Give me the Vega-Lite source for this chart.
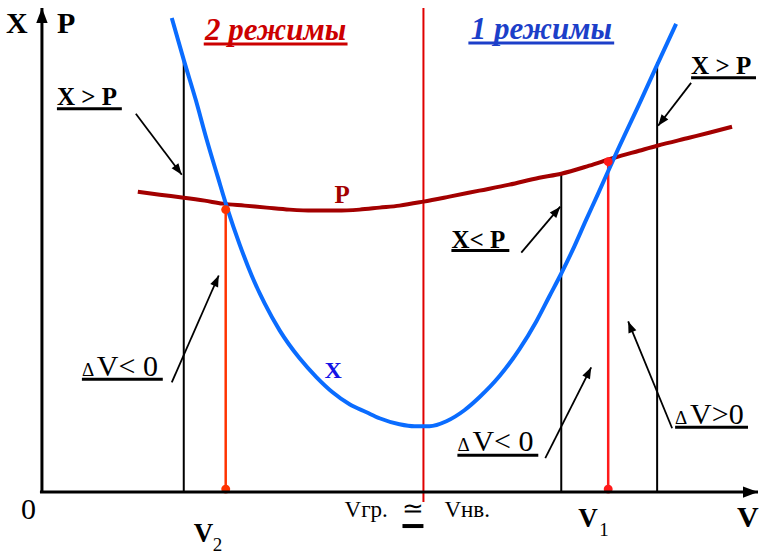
{
  "$schema": "https://vega.github.io/schema/vega-lite/v6.json",
  "width": 760,
  "height": 555,
  "autosize": {"type": "fit", "contains": "padding"},
  "padding": 0,
  "background": "white",
  "config": {"view": {"stroke": null}, "text": {"font": "Liberation Serif, Times New Roman, serif"}},
  "datasets": {
    "curves": [
      {"curve": "X", "x": 172, "y": 537}, {"curve": "X", "x": 184, "y": 495}, {"curve": "X", "x": 196, "y": 455},
      {"curve": "X", "x": 207, "y": 415}, {"curve": "X", "x": 218, "y": 378}, {"curve": "X", "x": 228, "y": 345},
      {"curve": "X", "x": 240, "y": 310}, {"curve": "X", "x": 252, "y": 279}, {"curve": "X", "x": 265, "y": 251},
      {"curve": "X", "x": 280, "y": 224}, {"curve": "X", "x": 300, "y": 196}, {"curve": "X", "x": 317, "y": 177},
      {"curve": "X", "x": 333, "y": 162}, {"curve": "X", "x": 350, "y": 150}, {"curve": "X", "x": 367, "y": 142},
      {"curve": "X", "x": 380, "y": 136}, {"curve": "X", "x": 400, "y": 130}, {"curve": "X", "x": 415, "y": 128},
      {"curve": "X", "x": 430, "y": 128}, {"curve": "X", "x": 447, "y": 133}, {"curve": "X", "x": 465, "y": 144},
      {"curve": "X", "x": 480, "y": 157}, {"curve": "X", "x": 500, "y": 178}, {"curve": "X", "x": 520, "y": 205},
      {"curve": "X", "x": 537, "y": 233}, {"curve": "X", "x": 550, "y": 258}, {"curve": "X", "x": 562, "y": 281},
      {"curve": "X", "x": 575, "y": 308}, {"curve": "X", "x": 587, "y": 335}, {"curve": "X", "x": 598, "y": 359},
      {"curve": "X", "x": 615, "y": 397}, {"curve": "X", "x": 642, "y": 455}, {"curve": "X", "x": 658, "y": 490},
      {"curve": "X", "x": 677, "y": 531},
      {"curve": "P", "x": 138, "y": 363}, {"curve": "P", "x": 160, "y": 360}, {"curve": "P", "x": 184, "y": 357},
      {"curve": "P", "x": 205, "y": 354}, {"curve": "P", "x": 223, "y": 351}, {"curve": "P", "x": 245, "y": 349},
      {"curve": "P", "x": 267, "y": 347}, {"curve": "P", "x": 290, "y": 345}, {"curve": "P", "x": 313, "y": 344},
      {"curve": "P", "x": 337, "y": 344}, {"curve": "P", "x": 360, "y": 345}, {"curve": "P", "x": 380, "y": 347},
      {"curve": "P", "x": 400, "y": 349}, {"curve": "P", "x": 424, "y": 353}, {"curve": "P", "x": 450, "y": 358},
      {"curve": "P", "x": 480, "y": 364}, {"curve": "P", "x": 510, "y": 370}, {"curve": "P", "x": 540, "y": 377},
      {"curve": "P", "x": 562, "y": 381}, {"curve": "P", "x": 590, "y": 389}, {"curve": "P", "x": 615, "y": 397},
      {"curve": "P", "x": 640, "y": 404}, {"curve": "P", "x": 658, "y": 409}, {"curve": "P", "x": 690, "y": 417},
      {"curve": "P", "x": 710, "y": 422}, {"curve": "P", "x": 733, "y": 428}
    ],
    "segments": [
      {"kind": "black", "x": 184, "y": 63, "x2": 184, "y2": 495},
      {"kind": "black", "x": 562, "y": 63, "x2": 562, "y2": 381},
      {"kind": "black", "x": 658, "y": 63, "x2": 658, "y2": 493},
      {"kind": "center", "x": 424, "y": 52, "x2": 424, "y2": 547},
      {"kind": "orange", "x": 226, "y": 65, "x2": 226, "y2": 345},
      {"kind": "red", "x": 609, "y": 65, "x2": 609, "y2": 393}
    ],
    "dots": [
      {"kind": "orange", "x": 226, "y": 345}, {"kind": "orange", "x": 226, "y": 65},
      {"kind": "red", "x": 609, "y": 393}, {"kind": "red", "x": 609, "y": 65}
    ],
    "arrows": [
      {"kind": "axis", "x": 42, "y": 61, "x2": 42, "y2": 547},
      {"kind": "axis", "x": 40, "y": 62, "x2": 759, "y2": 62},
      {"kind": "note", "x": 136, "y": 441, "x2": 182, "y2": 380},
      {"kind": "note", "x": 172, "y": 172, "x2": 219, "y2": 279},
      {"kind": "note", "x": 522, "y": 302, "x2": 561, "y2": 348},
      {"kind": "note", "x": 692, "y": 472, "x2": 659, "y2": 429},
      {"kind": "note", "x": 546, "y": 96, "x2": 592, "y2": 187},
      {"kind": "note", "x": 673, "y": 126, "x2": 629, "y2": 233}
    ],
    "underlines": [
      {"kind": "mode2", "x": 204, "x2": 348, "y": 511},
      {"kind": "mode1", "x": 469, "x2": 615, "y": 512},
      {"kind": "black", "x": 57, "x2": 122, "y": 446},
      {"kind": "black", "x": 692, "x2": 757, "y": 477},
      {"kind": "black", "x": 452, "x2": 510, "y": 304},
      {"kind": "black", "x": 82, "x2": 163, "y": 175},
      {"kind": "black", "x": 458, "x2": 539, "y": 99},
      {"kind": "black", "x": 676, "x2": 749, "y": 127},
      {"kind": "thick", "x": 403, "x2": 424, "y": 28}
    ],
    "texts": [
      {"style": "axis", "label": "X", "x": 6, "y": 522},
      {"style": "axis", "label": "P", "x": 57, "y": 522},
      {"style": "axis", "label": "V", "x": 738, "y": 27},
      {"style": "zero", "label": "0", "x": 21, "y": 35},
      {"style": "mode2", "label": "2 режимы", "x": 276, "y": 515},
      {"style": "mode1", "label": "1 режимы", "x": 542, "y": 516},
      {"style": "cmp", "label": "X > P", "x": 57, "y": 450},
      {"style": "cmp", "label": "X > P", "x": 692, "y": 481},
      {"style": "cmp", "label": "X< P", "x": 452, "y": 307},
      {"style": "delta", "label": "Δ", "x": 82, "y": 178},
      {"style": "dv", "label": "V< 0", "x": 97, "y": 178},
      {"style": "delta", "label": "Δ", "x": 458, "y": 103},
      {"style": "dv", "label": "V< 0", "x": 473, "y": 103},
      {"style": "delta", "label": "Δ", "x": 676, "y": 130},
      {"style": "dv", "label": "V>0", "x": 691, "y": 130},
      {"style": "curveP", "label": "P", "x": 335, "y": 352},
      {"style": "curveX", "label": "X", "x": 325, "y": 176},
      {"style": "vbig", "label": "V", "x": 194, "y": 12},
      {"style": "sub", "label": "2", "x": 213, "y": 3},
      {"style": "vbig", "label": "V", "x": 579, "y": 27},
      {"style": "sub", "label": "1", "x": 600, "y": 18},
      {"style": "vsmall", "label": "Vгр.", "x": 345, "y": 37},
      {"style": "approx", "label": "≃", "x": 403, "y": 37},
      {"style": "vsmall", "label": "Vнв.", "x": 445, "y": 37}
    ]
  },
  "encoding": {
    "x": {"field": "x", "type": "quantitative", "scale": {"domain": [0, 760], "nice": false, "zero": false}, "axis": null},
    "y": {"field": "y", "type": "quantitative", "scale": {"domain": [0, 555], "nice": false, "zero": false}, "axis": null}
  },
  "layer": [
    {
      "data": {"name": "segments"},
      "transform": [{"filter": "datum.kind === 'black'"}],
      "mark": {"type": "rule", "color": "#000000", "strokeWidth": 2},
      "encoding": {"x2": {"field": "x2"}, "y2": {"field": "y2"}}
    },
    {
      "data": {"name": "segments"},
      "transform": [{"filter": "datum.kind === 'center'"}],
      "mark": {"type": "rule", "color": "#e00000", "strokeWidth": 2},
      "encoding": {"x2": {"field": "x2"}, "y2": {"field": "y2"}}
    },
    {
      "data": {"name": "segments"},
      "transform": [{"filter": "datum.kind === 'orange'"}],
      "mark": {"type": "rule", "color": "#ff3300", "strokeWidth": 2.5},
      "encoding": {"x2": {"field": "x2"}, "y2": {"field": "y2"}}
    },
    {
      "data": {"name": "segments"},
      "transform": [{"filter": "datum.kind === 'red'"}],
      "mark": {"type": "rule", "color": "#ff1a1a", "strokeWidth": 2.5},
      "encoding": {"x2": {"field": "x2"}, "y2": {"field": "y2"}}
    },
    {
      "data": {"name": "curves"},
      "transform": [{"filter": "datum.curve === 'P'"}],
      "mark": {"type": "line", "interpolate": "monotone", "strokeWidth": 4, "color": "#a30000"},
      "encoding": {}
    },
    {
      "data": {"name": "curves"},
      "transform": [{"filter": "datum.curve === 'X'"}],
      "mark": {"type": "line", "interpolate": "monotone", "strokeWidth": 4, "color": "#0a6cff"},
      "encoding": {}
    },
    {
      "data": {"name": "dots"},
      "transform": [{"filter": "datum.kind === 'orange'"}],
      "mark": {"type": "point", "filled": true, "shape": "circle", "size": 80, "opacity": 1, "color": "#ff3300"},
      "encoding": {}
    },
    {
      "data": {"name": "dots"},
      "transform": [{"filter": "datum.kind === 'red'"}],
      "mark": {"type": "point", "filled": true, "shape": "circle", "size": 80, "opacity": 1, "color": "#ff1a1a"},
      "encoding": {}
    },
    {
      "data": {"name": "arrows"},
      "transform": [{"filter": "datum.kind === 'axis'"}],
      "mark": {"type": "rule", "color": "black", "strokeWidth": 3},
      "encoding": {"x2": {"field": "x2"}, "y2": {"field": "y2"}}
    },
    {
      "data": {"name": "arrows"},
      "transform": [{"filter": "datum.kind === 'note'"}],
      "mark": {"type": "rule", "color": "black", "strokeWidth": 1.8},
      "encoding": {"x2": {"field": "x2"}, "y2": {"field": "y2"}}
    },
    {
      "data": {"name": "arrows"},
      "transform": [
        {"filter": "datum.kind === 'axis'"},
        {"calculate": "atan2(datum.x2 - datum.x, datum.y2 - datum.y) * 180 / PI", "as": "angle"}
      ],
      "mark": {"type": "point", "filled": true, "color": "black", "opacity": 1, "shape": "M0,0L-0.38,1L0.38,1Z", "size": 900},
      "encoding": {
        "x": {"field": "x2", "type": "quantitative"},
        "y": {"field": "y2", "type": "quantitative"},
        "angle": {"field": "angle", "type": "quantitative", "scale": null}
      }
    },
    {
      "data": {"name": "arrows"},
      "transform": [
        {"filter": "datum.kind === 'note'"},
        {"calculate": "atan2(datum.x2 - datum.x, datum.y2 - datum.y) * 180 / PI", "as": "angle"}
      ],
      "mark": {"type": "point", "filled": true, "color": "black", "opacity": 1, "shape": "M0,0L-0.38,1L0.38,1Z", "size": 500},
      "encoding": {
        "x": {"field": "x2", "type": "quantitative"},
        "y": {"field": "y2", "type": "quantitative"},
        "angle": {"field": "angle", "type": "quantitative", "scale": null}
      }
    },
    {
      "data": {"name": "underlines"},
      "transform": [{"filter": "datum.kind === 'mode2'"}],
      "mark": {"type": "rule", "color": "#cc0000", "strokeWidth": 3},
      "encoding": {"x2": {"field": "x2"}}
    },
    {
      "data": {"name": "underlines"},
      "transform": [{"filter": "datum.kind === 'mode1'"}],
      "mark": {"type": "rule", "color": "#1c3fc9", "strokeWidth": 3},
      "encoding": {"x2": {"field": "x2"}}
    },
    {
      "data": {"name": "underlines"},
      "transform": [{"filter": "datum.kind === 'black'"}],
      "mark": {"type": "rule", "color": "#000000", "strokeWidth": 3},
      "encoding": {"x2": {"field": "x2"}}
    },
    {
      "data": {"name": "underlines"},
      "transform": [{"filter": "datum.kind === 'thick'"}],
      "mark": {"type": "rule", "color": "#000000", "strokeWidth": 4},
      "encoding": {"x2": {"field": "x2"}}
    },
    {
      "data": {"name": "texts"},
      "transform": [{"filter": "datum.style === 'axis'"}],
      "mark": {"type": "text", "align": "left", "baseline": "alphabetic", "fontWeight": "bold", "fontSize": 30, "color": "black"},
      "encoding": {"text": {"field": "label"}}
    },
    {
      "data": {"name": "texts"},
      "transform": [{"filter": "datum.style === 'zero'"}],
      "mark": {"type": "text", "align": "left", "baseline": "alphabetic", "fontSize": 30, "color": "black"},
      "encoding": {"text": {"field": "label"}}
    },
    {
      "data": {"name": "texts"},
      "transform": [{"filter": "datum.style === 'mode2'"}],
      "mark": {"type": "text", "align": "center", "baseline": "alphabetic", "fontWeight": "bold", "fontStyle": "italic", "fontSize": 31, "color": "#cc0000"},
      "encoding": {"text": {"field": "label"}}
    },
    {
      "data": {"name": "texts"},
      "transform": [{"filter": "datum.style === 'mode1'"}],
      "mark": {"type": "text", "align": "center", "baseline": "alphabetic", "fontWeight": "bold", "fontStyle": "italic", "fontSize": 31, "color": "#1c3fc9"},
      "encoding": {"text": {"field": "label"}}
    },
    {
      "data": {"name": "texts"},
      "transform": [{"filter": "datum.style === 'cmp'"}],
      "mark": {"type": "text", "align": "left", "baseline": "alphabetic", "fontWeight": "bold", "fontSize": 25, "color": "black"},
      "encoding": {"text": {"field": "label"}}
    },
    {
      "data": {"name": "texts"},
      "transform": [{"filter": "datum.style === 'delta'"}],
      "mark": {"type": "text", "align": "left", "baseline": "alphabetic", "fontSize": 19, "color": "black"},
      "encoding": {"text": {"field": "label"}}
    },
    {
      "data": {"name": "texts"},
      "transform": [{"filter": "datum.style === 'dv'"}],
      "mark": {"type": "text", "align": "left", "baseline": "alphabetic", "fontSize": 30, "color": "black"},
      "encoding": {"text": {"field": "label"}}
    },
    {
      "data": {"name": "texts"},
      "transform": [{"filter": "datum.style === 'curveP'"}],
      "mark": {"type": "text", "align": "left", "baseline": "alphabetic", "fontWeight": "bold", "fontSize": 25, "color": "#a30000"},
      "encoding": {"text": {"field": "label"}}
    },
    {
      "data": {"name": "texts"},
      "transform": [{"filter": "datum.style === 'curveX'"}],
      "mark": {"type": "text", "align": "left", "baseline": "alphabetic", "fontWeight": "bold", "fontSize": 24, "color": "#1414e6"},
      "encoding": {"text": {"field": "label"}}
    },
    {
      "data": {"name": "texts"},
      "transform": [{"filter": "datum.style === 'vbig'"}],
      "mark": {"type": "text", "align": "left", "baseline": "alphabetic", "fontWeight": "bold", "fontSize": 27, "color": "black"},
      "encoding": {"text": {"field": "label"}}
    },
    {
      "data": {"name": "texts"},
      "transform": [{"filter": "datum.style === 'sub'"}],
      "mark": {"type": "text", "align": "left", "baseline": "alphabetic", "fontSize": 19, "color": "black"},
      "encoding": {"text": {"field": "label"}}
    },
    {
      "data": {"name": "texts"},
      "transform": [{"filter": "datum.style === 'vsmall'"}],
      "mark": {"type": "text", "align": "left", "baseline": "alphabetic", "fontSize": 23, "color": "black"},
      "encoding": {"text": {"field": "label"}}
    },
    {
      "data": {"name": "texts"},
      "transform": [{"filter": "datum.style === 'approx'"}],
      "mark": {"type": "text", "align": "left", "baseline": "alphabetic", "fontSize": 26, "color": "black"},
      "encoding": {"text": {"field": "label"}}
    }
  ]
}
